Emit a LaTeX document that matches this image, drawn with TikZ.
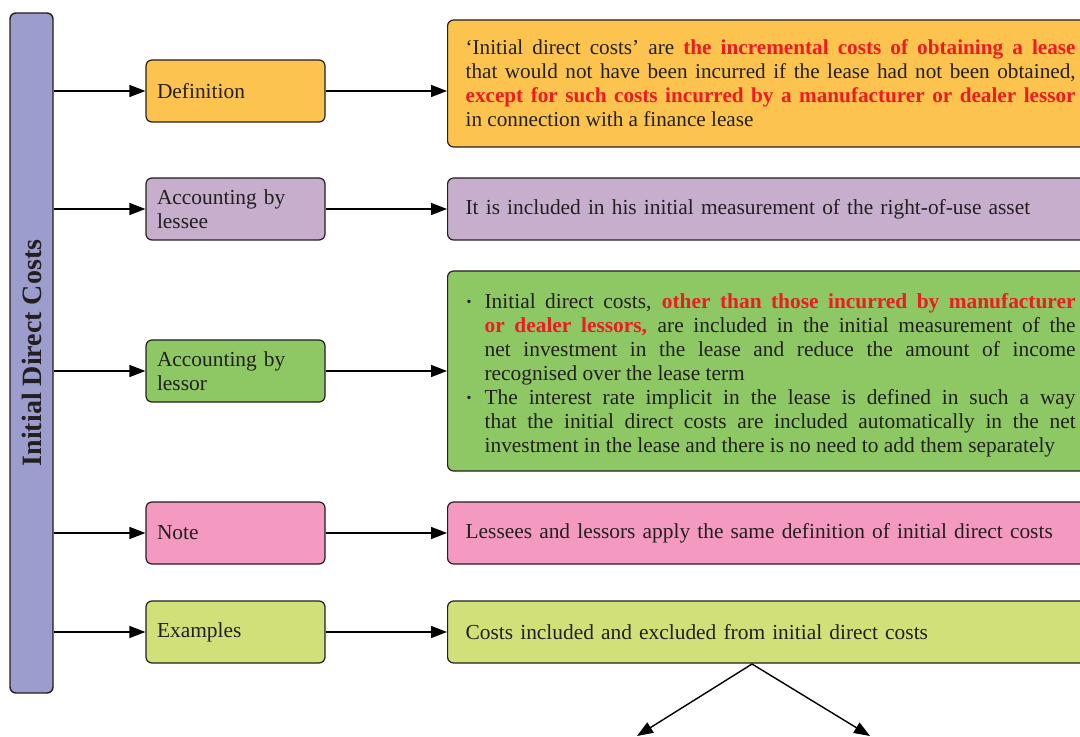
\documentclass[tikz,border=0pt]{standalone}
\usepackage{fontspec}
\setmainfont{Liberation Serif}
\usetikzlibrary{arrows.meta}
\definecolor{barblue}{HTML}{9C9DCD}
\definecolor{defyellow}{HTML}{FCC44E}
\definecolor{lesseepurple}{HTML}{C7AECD}
\definecolor{lessorgreen}{HTML}{8EC864}
\definecolor{notepink}{HTML}{F49AC1}
\definecolor{examplelime}{HTML}{D2E07A}
\definecolor{hired}{HTML}{ED1C24}
\definecolor{inkgray}{HTML}{231F20}
\newcommand{\hl}[1]{\textbf{\color{hired}#1}}
\newenvironment{dotlist}{\begin{list}{\raisebox{0.9pt}{\scriptsize\textbullet}}{\setlength{\leftmargin}{9.5pt}\setlength{\labelwidth}{3pt}\setlength{\labelsep}{6.5pt}\setlength{\itemsep}{0pt}\setlength{\parsep}{0pt}\setlength{\topsep}{0pt}\setlength{\partopsep}{0pt}}}{\end{list}}
\begin{document}
\begin{tikzpicture}[x=0.5pt,y=-0.5pt,font=\fontsize{10.7}{12}\selectfont,text=inkgray]

\tikzstyle{mainbar} = [rectangle, rounded corners=3pt, minimum width=21.5pt, minimum height=340pt, inner sep=0pt, draw=inkgray, line width=0.7pt, fill=barblue]
\tikzstyle{topic} = [rectangle, rounded corners=3pt, minimum width=89.5pt, minimum height=31pt, text width=78.5pt, inner xsep=5.5pt, align=left, draw=inkgray, line width=0.6pt]
\tikzstyle{detail} = [rectangle, rounded corners=3pt, minimum width=323pt, minimum height=31pt, text width=305pt, inner xsep=9pt, align=left, anchor=west, draw=inkgray, line width=0.6pt]
\tikzstyle{arrow} = [line width=0.7pt,-{Triangle[length=8pt,width=6pt]}]

\useasboundingbox (0,0) rectangle (1080,737);
\clip (0,0) rectangle (1080,737);

\node (bar) [mainbar] at (31.5,353) {\rotatebox{90}{\fontsize{14}{16}\selectfont\bfseries Initial Direct Costs}};

\node (def) [topic, fill=defyellow] at (235.5,91) {Definition};
\node (lessee) [topic, fill=lesseepurple] at (235.5,209) {Accounting by lessee};
\node (lessor) [topic, fill=lessorgreen] at (235.5,371) {Accounting by lessor};
\node (note) [topic, fill=notepink] at (235.5,533) {Note};
\node (ex) [topic, fill=examplelime] at (235.5,632) {Examples};

\node (defr) [detail, fill=defyellow, minimum height=63.5pt, align=justify, font=\fontsize{10.6}{12}\selectfont] at (447,83.5) {`Initial direct costs' are \hl{the incremental costs of obtaining a lease}\linebreak that would not have been incurred if the lease had not been obtained,\linebreak\hl{except for such costs incurred by a manufacturer or dealer lessor}\linebreak in connection with a finance lease};
\node (lesseer) [detail, fill=lesseepurple] at (447,209) {It is included in his initial measurement of the right-of-use asset};
\node (lessorr) [detail, fill=lessorgreen, minimum height=100pt, align=justify] at (447,371) {\begin{dotlist}
\item Initial direct costs, \hl{other than those incurred by manufacturer}\linebreak\hl{or dealer lessors,} are included in the initial measurement of the\linebreak net investment in the lease and reduce the amount of income\linebreak recognised over the lease term
\item The interest rate implicit in the lease is defined in such a way\linebreak that the initial direct costs are included automatically in the net\linebreak investment in the lease and there is no need to add them separately
\end{dotlist}};
\node (noter) [detail, fill=notepink] at (447,533) {Lessees and lessors apply the same definition of initial direct costs};
\node (exr) [detail, fill=examplelime] at (447,632) {Costs included and excluded from initial direct costs};

\coordinate (split) at (752,664);
\coordinate (incl) at (637,736);
\coordinate (excl) at (870,736);

\draw [arrow] (def.west -| bar.east) -- (def.west);
\draw [arrow] (lessee.west -| bar.east) -- (lessee.west);
\draw [arrow] (lessor.west -| bar.east) -- (lessor.west);
\draw [arrow] (note.west -| bar.east) -- (note.west);
\draw [arrow] (ex.west -| bar.east) -- (ex.west);

\draw [arrow] (def.east) -- (def.east -| defr.west);
\draw [arrow] (lessee.east) -- (lesseer.west);
\draw [arrow] (lessor.east) -- (lessorr.west);
\draw [arrow] (note.east) -- (noter.west);
\draw [arrow] (ex.east) -- (exr.west);

\draw [arrow] (split) -- (incl);
\draw [arrow] (split) -- (excl);

\end{tikzpicture}
\end{document}
